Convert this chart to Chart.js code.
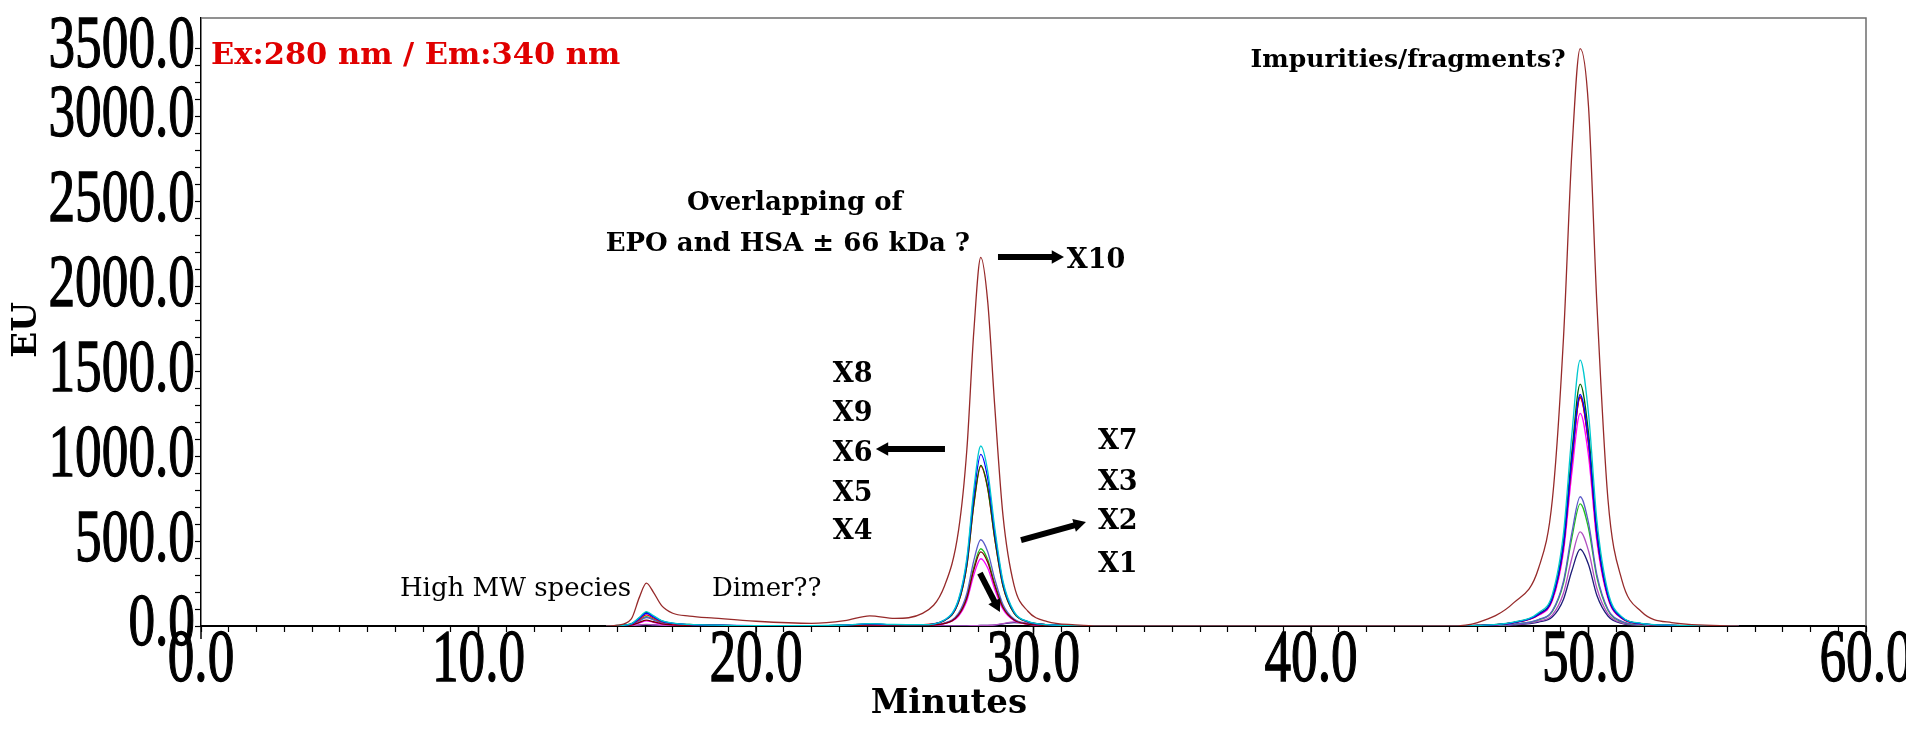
<!DOCTYPE html>
<html>
<head>
<meta charset="utf-8">
<script src="https://cdn.jsdelivr.net/npm/chart.js@4.4.1/dist/chart.umd.min.js"></script>
<style>
  html, body { margin: 0; padding: 0; background: #fff; }
  #wrap { width: 1906px; height: 754px; position: relative; }
</style>
</head>
<body>
<div id="wrap"><canvas id="chromatogram"></canvas></div>
<script>
// retention time grid (minutes) shared by all traces
const minutes = [14.6, 15.0, 15.5, 15.8, 16.05, 16.3, 16.6, 17.0, 17.6, 18.5, 20.0,
  22.0, 23.2, 24.1, 25.0,
  26.0, 26.8, 27.3, 27.6, 27.85, 28.1, 28.35, 28.6, 28.9, 29.3, 29.8, 30.5, 31.5,
  33.0, 45.0,
  46.0, 47.3, 48.2, 48.7, 49.1, 49.4, 49.7, 50.0, 50.3, 50.7, 51.2, 51.9, 53.0,
  55.4];

// fluorescence signal (EU)
const x10 = [0, 5, 40, 170, 252, 200, 120, 75, 58, 46, 28,
  16, 32, 60, 45,
  74, 239, 564, 1042, 1736, 2170, 1910, 1302, 651, 239, 87, 26, 7,
  0, 0,
  20, 136, 340, 748, 1700, 2788, 3400, 3060, 1904, 748, 272, 85, 20,
  0];
const x8 = [0, 3, 13, 51, 85, 61, 32, 17, 9, 5, 2,
  2, 6, 14, 9,
  8, 37, 159, 403, 806, 1060, 912, 583, 265, 85, 27, 8, 2,
  0, 0,
  3, 23, 78, 188, 548, 1127, 1565, 1252, 626, 203, 55, 16, 5,
  0];
const x9 = [0, 2, 11, 45, 75, 54, 29, 15, 8, 5, 2,
  2, 5, 12, 8,
  8, 35, 152, 384, 768, 1011, 869, 556, 253, 81, 25, 8, 2,
  0, 0,
  3, 20, 68, 164, 477, 981, 1363, 1090, 545, 177, 48, 14, 4,
  0];
const x6 = [0, 2, 12, 48, 80, 58, 30, 16, 9, 5, 2,
  2, 5, 12, 8,
  8, 33, 142, 359, 719, 946, 814, 520, 237, 76, 24, 8, 2,
  0, 0,
  3, 21, 71, 171, 498, 1025, 1424, 1139, 570, 185, 50, 14, 4,
  0];
const x5 = [0, 2, 10, 39, 65, 47, 25, 13, 7, 4, 1,
  1, 4, 10, 7,
  8, 33, 141, 357, 714, 940, 808, 517, 235, 75, 24, 8, 2,
  0, 0,
  3, 20, 67, 161, 470, 968, 1344, 1075, 538, 175, 47, 13, 4,
  0];
const x5b = [0, 1, 5, 21, 35, 25, 13, 7, 4, 2, 1,
  1, 3, 6, 4,
  3, 15, 65, 166, 331, 436, 375, 240, 109, 35, 11, 3, 1,
  0, 0,
  3, 20, 68, 162, 473, 972, 1350, 1080, 540, 176, 47, 14, 4,
  0];
const x4 = [0, 1, 5, 18, 30, 22, 11, 6, 3, 2, 1,
  1, 3, 6, 4,
  3, 14, 59, 150, 301, 396, 341, 218, 99, 32, 10, 3, 1,
  0, 0,
  3, 19, 63, 150, 438, 901, 1252, 1002, 501, 163, 44, 13, 4,
  0];
const x7 = [0, 2, 8, 30, 50, 36, 19, 10, 6, 3, 1,
  1, 3, 7, 5,
  4, 18, 76, 193, 386, 508, 437, 279, 127, 41, 13, 4, 1,
  0, 0,
  2, 11, 38, 91, 266, 548, 761, 609, 304, 99, 27, 8, 2,
  0];
const x3 = [0, 2, 8, 33, 55, 40, 21, 11, 6, 3, 1,
  1, 3, 7, 5,
  4, 16, 68, 173, 346, 455, 391, 250, 114, 36, 11, 4, 1,
  0, 0,
  1, 11, 36, 86, 252, 518, 719, 575, 288, 93, 25, 7, 2,
  0];
const x2 = [0, 0, 2, 6, 10, 7, 4, 2, 1, 1, 0,
  0, 1, 2, 1,
  0, 0, 0, 1, 2, 3, 4, 6, 14, 24, 20, 8, 2,
  0, 0,
  1, 8, 28, 66, 194, 399, 554, 443, 222, 72, 19, 6, 2,
  0];
const x1 = [0, 0, 1, 5, 8, 6, 3, 2, 1, 0, 0,
  0, 1, 2, 1,
  0, 0, 0, 1, 2, 3, 4, 5, 12, 20, 17, 7, 2,
  0, 0,
  1, 7, 23, 54, 158, 325, 452, 362, 181, 59, 16, 5, 1,
  0];

const traceNames = ['X10', 'X8', 'X9', 'X6', 'X5', 'X5b', 'X4', 'X7', 'X3', 'X2', 'X1'];
const traceValues = [x10, x8, x9, x6, x5, x5b, x4, x7, x3, x2, x1];
const traceColors = ['#962a2a', '#00c8d0', '#0000ff', '#006400', '#ff0000', '#7a0000',
  '#ff00ff', '#5a5ac8', '#20c020', '#b050c0', '#1c1c78'];

const xTickValues = [0, 10, 20, 30, 40, 50, 60];
const yTickValues = [0, 500, 1000, 1500, 2000, 2500, 3000, 3500];

const datasets = traceNames.map((name, i) => ({
  label: name,
  data: minutes.map((m, j) => ({ x: m, y: traceValues[i][j] })),
  borderColor: traceColors[i],
  borderWidth: 1.3,
  pointRadius: 0,
  fill: false,
  cubicInterpolationMode: 'monotone'
}));

function squeezed(ctx, text, x, y, align) {
  ctx.save();
  ctx.translate(x, y);
  ctx.scale(0.72, 1);
  ctx.textAlign = align;
  ctx.fillText(text, 0, 0);
  ctx.strokeText(text, 0, 0);
  ctx.restore();
}

function arrow(ctx, x1, y1, x2, y2) {
  const ang = Math.atan2(y2 - y1, x2 - x1);
  const head = 14;
  ctx.beginPath();
  ctx.moveTo(x1, y1);
  ctx.lineTo(x2 - head * 0.8 * Math.cos(ang), y2 - head * 0.8 * Math.sin(ang));
  ctx.lineWidth = 6;
  ctx.stroke();
  ctx.beginPath();
  ctx.moveTo(x2, y2);
  ctx.lineTo(x2 - head * Math.cos(ang - 0.5), y2 - head * Math.sin(ang - 0.5));
  ctx.lineTo(x2 - head * Math.cos(ang + 0.5), y2 - head * Math.sin(ang + 0.5));
  ctx.closePath();
  ctx.fill();
}

const decor = {
  id: 'decor',
  afterDraw(chart) {
    const { ctx, chartArea: a, scales: { x, y } } = chart;
    const X = v => x.getPixelForValue(v);
    const Y = v => y.getPixelForValue(v);
    ctx.save();

    // grey frame on top and right
    ctx.strokeStyle = '#6e6e6e';
    ctx.lineWidth = 1.5;
    ctx.beginPath();
    ctx.moveTo(a.left, a.top);
    ctx.lineTo(a.right, a.top);
    ctx.lineTo(a.right, a.bottom);
    ctx.stroke();

    // longer ticks at labelled minutes
    ctx.strokeStyle = '#000';
    ctx.lineWidth = 1.5;
    xTickValues.forEach(v => {
      ctx.beginPath();
      ctx.moveTo(X(v), a.bottom);
      ctx.lineTo(X(v), a.bottom + 13);
      ctx.stroke();
    });

    // tick labels (tall, condensed)
    ctx.fillStyle = '#000';
    ctx.strokeStyle = '#000';
    ctx.lineWidth = 1.3;
    ctx.font = '74px "Liberation Serif"';
    ctx.textBaseline = 'middle';
    yTickValues.forEach(v => squeezed(ctx, v.toFixed(1), 195, Math.max(Y(v), 48), 'right'));
    xTickValues.forEach(v => squeezed(ctx, v.toFixed(1), X(v), 662, 'center'));

    // axis titles
    ctx.font = 'bold 34px "DejaVu Serif"';
    ctx.textAlign = 'center';
    ctx.fillText('Minutes', X(26.95), 704);
    ctx.save();
    ctx.translate(27, (a.top + a.bottom) / 2 + 8);
    ctx.rotate(-Math.PI / 2);
    ctx.fillText('EU', 0, 0);
    ctx.restore();

    // annotations
    ctx.fillStyle = '#e00000';
    ctx.font = 'bold 30.5px "DejaVu Serif"';
    ctx.textAlign = 'left';
    ctx.fillText('Ex:280 nm / Em:340 nm', X(0.36), Y(3358));

    ctx.fillStyle = '#000';
    ctx.font = 'bold 25px "DejaVu Serif"';
    ctx.textAlign = 'center';
    ctx.fillText('Impurities/fragments?', X(43.5), Y(3332));
    ctx.font = 'bold 26px "DejaVu Serif"';
    ctx.fillText('Overlapping of', X(21.4), Y(2492));
    ctx.fillText('EPO and HSA \u00b1 66 kDa ?', X(21.15), Y(2245));

    ctx.font = 'bold 27px "DejaVu Serif"';
    ctx.textAlign = 'left';
    ctx.fillText('X10', X(31.2), Y(2150));
    [['X8', 1478], ['X9', 1248], ['X6', 1013], ['X5', 777], ['X4', 553]]
      .forEach(([t, v]) => ctx.fillText(t, X(22.77), Y(v)));
    [['X7', 1083], ['X3', 842], ['X2', 612], ['X1', 359]]
      .forEach(([t, v]) => ctx.fillText(t, X(32.32), Y(v)));

    ctx.font = '26px "DejaVu Serif"';
    ctx.textAlign = 'right';
    ctx.fillText('High MW species', X(15.5), Y(218));
    ctx.textAlign = 'left';
    ctx.fillText('Dimer??', X(18.41), Y(218));

    ctx.strokeStyle = '#000';
    ctx.fillStyle = '#000';
    arrow(ctx, X(28.72), Y(2173), X(31.1), Y(2173));
    arrow(ctx, X(26.81), Y(1042), X(24.32), Y(1042));
    arrow(ctx, X(29.55), Y(506), X(31.89), Y(612));
    arrow(ctx, X(28.07), Y(312), X(28.79), Y(82));
    ctx.restore();
  }
};

new Chart(document.getElementById('chromatogram'), {
  type: 'line',
  data: { datasets: datasets },
  options: {
    responsive: true,
    maintainAspectRatio: false,
    animation: false,
    layout: { padding: { top: 18, right: 40, left: 0, bottom: 0 } },
    plugins: {
      legend: { display: false },
      tooltip: { enabled: false }
    },
    scales: {
      x: {
        type: 'linear',
        min: 0,
        max: 60,
        ticks: { display: false, stepSize: 1 },
        grid: { drawOnChartArea: false, drawTicks: true, tickLength: 6, tickColor: '#000', tickWidth: 1.2 },
        border: { color: '#000', width: 2 },
        afterFit(s) { s.height = 128; }
      },
      y: {
        min: 0,
        max: 3580,
        ticks: { display: false, stepSize: 100 },
        afterBuildTicks(s) { s.ticks = s.ticks.filter(t => t.value % 100 === 0); },
        grid: { drawOnChartArea: false, drawTicks: true, tickLength: 6, tickColor: '#000', tickWidth: 1.2 },
        border: { color: '#000', width: 1.5 },
        afterFit(s) { s.width = 201; }
      }
    }
  },
  plugins: [decor]
});
</script>
</body>
</html>
